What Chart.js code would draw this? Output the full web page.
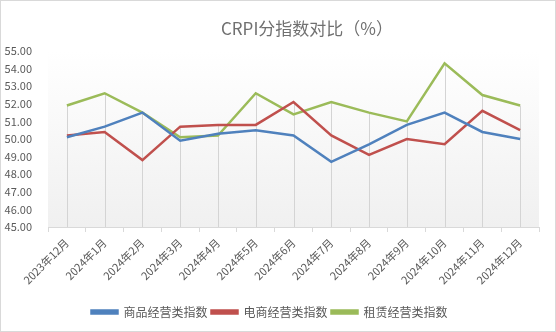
<!DOCTYPE html>
<html>
<head>
<meta charset="utf-8">
<script src="https://cdn.jsdelivr.net/npm/chart.js@4"></script>
<style>
  body { margin: 0; background: #fff; }
  #wrap { width: 556px; height: 332px; }
</style>
</head>
<body>
<div id="wrap"><canvas id="chart"></canvas></div>
<script>
// données
const months = ['2023年12月','2024年1月','2024年2月','2024年3月','2024年4月','2024年5月','2024年6月',
  '2024年7月','2024年8月','2024年9月','2024年10月','2024年11月','2024年12月']
const goodsIndex = [50.1, 50.7, 51.5, 49.9, 50.3, 50.5, 50.2, 48.7, 49.7, 50.8, 51.5, 50.4, 50.0]
const ecomIndex = [50.2, 50.4, 48.8, 50.7, 50.8, 50.8, 52.1, 50.2, 49.1, 50.0, 49.7, 51.6, 50.5]
const rentIndex = [51.9, 52.6, 51.5, 50.1, 50.2, 52.6, 51.4, 52.1, 51.5, 51.0, 54.3, 52.5, 51.9]
const yTicks = [45, 46, 47, 48, 49, 50, 51, 52, 53, 54, 55]
const chartTitle = 'CRPI分指数对比（%）'

const FONT = '"Noto Sans CJK SC", "Noto Sans", sans-serif'
const GREY = '#595959'

// fond dégradé + cadre + titre + lignes de projection
const decor = {
  id: 'decor',
  beforeDraw(chart) {
    const {ctx, chartArea: a, width, height} = chart
    ctx.save()
    ctx.fillStyle = '#fff'
    ctx.fillRect(0, 0, width, height)
    const g = ctx.createLinearGradient(0, a.top, 0, a.bottom)
    g.addColorStop(0, '#ffffff')
    g.addColorStop(1, '#f0f0f0')
    ctx.fillStyle = g
    ctx.fillRect(a.left, a.top, a.right - a.left, a.bottom - a.top)
    ctx.strokeStyle = '#d9d9d9'
    ctx.lineWidth = 1
    ctx.strokeRect(0.5, 0.5, width - 1, height - 1)
    // titre centré comme dans l'original
    ctx.fillStyle = '#707070'
    ctx.font = '17px ' + FONT
    ctx.textAlign = 'center'
    ctx.textBaseline = 'middle'
    ctx.fillText(chartTitle, 307, 29)
    ctx.restore()
  },
  beforeDatasetsDraw(chart) {
    const {ctx, chartArea: a, scales} = chart
    ctx.save()
    ctx.strokeStyle = '#d4d4d4'
    ctx.lineWidth = 1
    months.forEach((m, i) => {
      const top = Math.max(goodsIndex[i], ecomIndex[i], rentIndex[i])
      const x = Math.round(scales.x.getPixelForValue(i)) + 0.5
      ctx.beginPath()
      ctx.moveTo(x, scales.y.getPixelForValue(top))
      ctx.lineTo(x, a.bottom)
      ctx.stroke()
    })
    ctx.restore()
  }
}

function serie(label, data, color) {
  return {
    label: label,
    data: data,
    borderColor: color,
    backgroundColor: color,
    borderWidth: 2.5,
    pointRadius: 0,
    tension: 0
  }
}

new Chart(document.getElementById('chart'), {
  type: 'line',
  data: {
    labels: months,
    datasets: [
      serie('商品经营类指数', goodsIndex, '#4f81bd'),
      serie('电商经营类指数', ecomIndex, '#c0504d'),
      serie('租赁经营类指数', rentIndex, '#9bbb59')
    ]
  },
  plugins: [decor],
  options: {
    responsive: true,
    maintainAspectRatio: false,
    animation: false,
    layout: { padding: { left: 0, right: 17, top: 51, bottom: 4 } },
    plugins: {
      title: { display: false },
      legend: {
        position: 'bottom',
        labels: {
          color: GREY,
          font: { family: FONT, size: 12 },
          boxWidth: 26,
          boxHeight: 3,
          padding: 4
        }
      },
      tooltip: { enabled: false }
    },
    scales: {
      x: {
        offset: true,
        grid: { display: true, drawOnChartArea: false, offset: true, tickLength: 5, color: '#d9d9d9' },
        border: { color: '#d9d9d9' },
        ticks: {
          color: GREY,
          font: { family: FONT, size: 11 },
          minRotation: 45,
          maxRotation: 45,
          padding: 4,
          autoSkip: false
        },
        afterFit(s) { s.height = 75 }
      },
      y: {
        min: yTicks[0],
        max: yTicks[yTicks.length - 1],
        afterBuildTicks(s) { s.ticks = yTicks.map(v => ({value: v})) },
        grid: { display: false },
        border: { display: false },
        ticks: {
          color: GREY,
          font: { family: FONT, size: 11 },
          padding: 8,
          callback: v => v.toFixed(2)
        },
        afterFit(s) { s.width = 48 }
      }
    }
  }
})
</script>
</body>
</html>
